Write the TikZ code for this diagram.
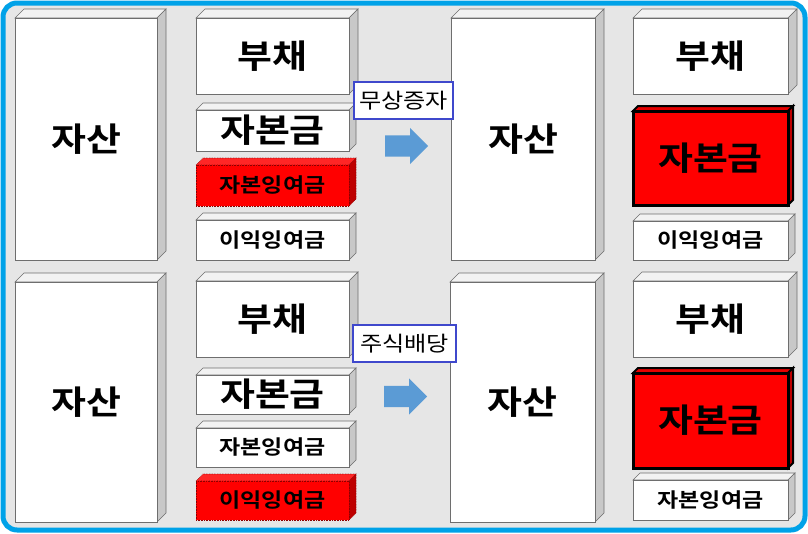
\documentclass[tikz,border=0pt]{standalone}
\usepackage{fontspec}
\newfontfamily\kr{Noto Sans CJK KR}[BoldFont={Noto Sans CJK KR Bold}, FakeStretch=1.15]
\usetikzlibrary{positioning,shapes.arrows}

\definecolor{frameblue}{RGB}{0,162,232}
\definecolor{paper}{RGB}{230,230,230}
\definecolor{edge}{RGB}{110,110,110}
\definecolor{topface}{RGB}{242,242,242}
\definecolor{sideface}{RGB}{200,200,200}
\definecolor{arrowblue}{RGB}{91,155,213}
\definecolor{tagblue}{RGB}{63,72,204}
\definecolor{darkred}{RGB}{190,0,0}

\pgfdeclarelayer{bg}
\pgfdeclarelayer{back}
\pgfsetlayers{bg,back,main}

% top and side face of a box: node, top fill, side fill, line style, depth
\newcommand{\slab}[5]{%
  \begin{pgfonlayer}{back}
    \filldraw[#4, fill=#2] (#1.north west) -- ++(#5,#5) -- ([shift={(#5,#5)}]#1.north east) -- (#1.north east) -- cycle;
    \filldraw[#4, fill=#3] (#1.north east) -- ++(#5,#5) -- ([shift={(#5,#5)}]#1.south east) -- (#1.south east) -- cycle;
  \end{pgfonlayer}}

\begin{document}
\begin{tikzpicture}[
        x=1pt, y=-1pt,
        node distance=14pt,
        box/.style={rectangle, draw=edge, fill=white, line width=0.6pt, inner sep=0pt, outer sep=0pt, font=\kr\bfseries\fontsize{33}{36}\selectfont},
        smallbox/.style={box, font=\kr\bfseries\fontsize{20}{24}\selectfont},
        redbox/.style={smallbox, fill=red, draw=red!55!black, densely dotted},
        capbox/.style={box, fill=red, draw=black, line width=3pt},
        tag/.style={rectangle, draw=tagblue, fill=white, line width=2.5pt, inner sep=0pt, minimum height=37pt, font=\kr\fontsize{21}{25}\selectfont},
        blockarrow/.style={single arrow, fill=arrowblue, inner xsep=0pt, inner ysep=10.5pt, single arrow head extend=7.5pt, minimum height=43pt, anchor=tail},
        flat/.style={draw=edge, line width=0.6pt},
        dots/.style={draw=red!55!black, line width=0.6pt, densely dotted},
        heavy/.style={draw=black, line width=2pt}
    ]
        \useasboundingbox (0,0) rectangle (808,533);
        \begin{pgfonlayer}{bg}
            \draw[frameblue, line width=5pt, fill=paper, rounded corners=14pt] (3,3) rectangle (805,530);
        \end{pgfonlayer}

        % Upper row: before
        \node[box, minimum width=142pt, minimum height=242pt] (assetA) at (86,139) {자산};
        \node[box, minimum width=153pt, minimum height=76pt] (debtA) at (272.5,56) {부채};
        \node[box, minimum width=153pt, minimum height=41pt] (capA) [below=16pt of debtA] {자본금};
        \node[redbox, minimum width=153pt, minimum height=41pt] (surA) [below=of capA] {자본잉여금};
        \node[smallbox, minimum width=153pt, minimum height=40pt] (retA) [below=of surA] {이익잉여금};

        % Upper row: after
        \node[box, minimum width=144pt, minimum height=242pt] (assetB) at (523,139) {자산};
        \node[box, minimum width=155pt, minimum height=76pt] (debtB) at (710.5,56) {부채};
        \node[capbox, minimum width=155pt, minimum height=94pt] (capB) [below=17pt of debtB] {자본금};
        \node[smallbox, minimum width=155pt, minimum height=39pt] (retB) [below=16pt of capB] {이익잉여금};

        % Upper row: bonus issue
        \node[tag, minimum width=99pt] (tagA) at (403.5,100.5) {무상증자};
        \node[blockarrow] (arrowA) at (385,146) {};

        % Lower row: before
        \node[box, minimum width=142pt, minimum height=240pt] (assetC) at (86,402) {자산};
        \node[box, minimum width=153pt, minimum height=76pt] (debtC) at (272.5,319) {부채};
        \node[box, minimum width=153pt, minimum height=39pt] (capC) [below=18pt of debtC] {자본금};
        \node[smallbox, minimum width=153pt, minimum height=39pt] (surC) [below=of capC] {자본잉여금};
        \node[redbox, minimum width=153pt, minimum height=39pt] (retC) [below=of surC] {이익잉여금};

        % Lower row: after
        \node[box, minimum width=145pt, minimum height=240pt] (assetD) at (522.5,402) {자산};
        \node[box, minimum width=155pt, minimum height=76pt] (debtD) at (710.5,319) {부채};
        \node[capbox, minimum width=155pt, minimum height=95pt] (capD) [below=16pt of debtD] {자본금};
        \node[smallbox, minimum width=155pt, minimum height=40pt] (surD) [below=12pt of capD] {자본잉여금};

        % Lower row: stock dividend
        \node[tag, minimum width=103pt] (tagC) at (404.5,343.5) {주식배당};
        \node[blockarrow] (arrowC) at (384,396.5) {};

        % Depth faces
        \foreach \n in {assetA,debtA,assetB,debtB,assetC,debtC,assetD,debtD}
            \slab{\n}{topface}{sideface}{flat}{9pt};
        \foreach \n in {capA,retA,retB,capC,surC,surD}
            \slab{\n}{topface}{sideface}{flat}{7pt};
        \foreach \n in {surA,retC}
            \slab{\n}{red!85}{darkred}{dots}{7pt};
        \foreach \n in {capB,capD}
            \slab{\n}{red!90!black}{darkred}{heavy}{5pt};
    \end{tikzpicture}
\end{document}
